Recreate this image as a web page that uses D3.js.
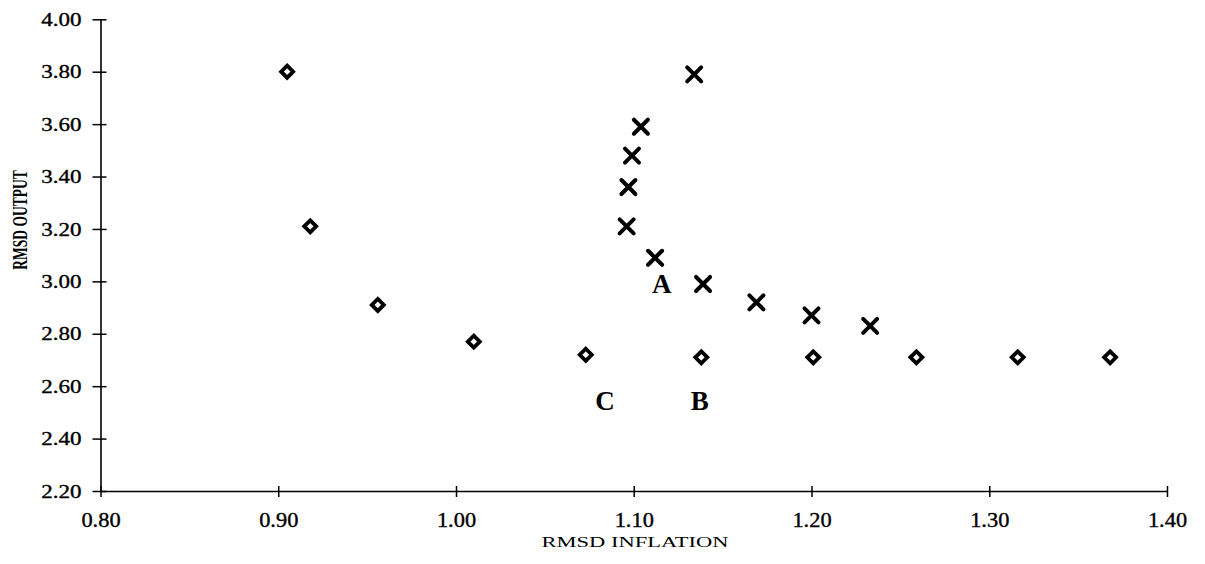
<!DOCTYPE html>
<html>
  <head>
    <meta charset="utf-8">
    <script src="https://d3js.org/d3.v7.min.js"></script>
    <style>
      body {
        margin: 0;
        background: #fff;
      }
      text {
        font-family: "Liberation Serif", "Times New Roman", serif;
        fill: #000;
      }
    </style>
  </head>
  <body>
    <script type="text/javascript">
      "use strict";

      // Diamond series (RMSD inflation, RMSD output)
      var diamondX = [0.905, 0.918, 0.956, 1.010, 1.073, 1.138, 1.201, 1.259, 1.316, 1.368];
      var diamondY = [3.80, 3.21, 2.91, 2.77, 2.72, 2.71, 2.71, 2.71, 2.71, 2.71];

      // Cross series
      var crossX = [1.134, 1.104, 1.099, 1.097, 1.096, 1.112, 1.139, 1.169, 1.200, 1.233];
      var crossY = [3.79, 3.59, 3.48, 3.36, 3.21, 3.09, 2.99, 2.92, 2.87, 2.83];

      // Letter annotations
      var noteText = ["A", "B", "C"];
      var noteX = [1.1157, 1.1372, 1.0838];
      var noteY = [2.99, 2.547, 2.547];

      // Axis ticks
      var xTicks = [0.80, 0.90, 1.00, 1.10, 1.20, 1.30, 1.40];
      var yTicks = [2.20, 2.40, 2.60, 2.80, 3.00, 3.20, 3.40, 3.60, 3.80, 4.00];

      var width = 1205,
          height = 564;

      function draw() {

        var svg = d3.select("body").append("svg")
                    .attr("width", width)
                    .attr("height", height);

        var x = d3.scaleLinear().domain([0.8, 1.4]).range([100.5, 1167]);
        var y = d3.scaleLinear().domain([2.2, 4.0]).range([491, 19.3]);

        // X axis, ticks crossing the line
        var xAxis = svg.append("g")
                       .attr("transform", "translate(0," + y(2.2) + ")")
                       .call(d3.axisBottom(x).tickValues(xTicks)
                               .tickFormat(d3.format(".2f"))
                               .tickSize(6).tickSizeOuter(0));
        xAxis.select(".domain").attr("stroke", "#000").attr("stroke-width", 1.6);
        xAxis.selectAll(".tick line").attr("y1", -5).attr("stroke-width", 1.5);
        xAxis.selectAll(".tick text")
             .attr("y", 0).attr("dy", 0)
             .attr("transform", "translate(0,36) scale(1.12,1)")
             .style("font-size", "20px")
             .style("stroke", "#000")
             .style("stroke-width", 0.35);

        // Y axis
        var yAxis = svg.append("g")
                       .attr("transform", "translate(" + x(0.8) + ",0)")
                       .call(d3.axisLeft(y).tickValues(yTicks)
                               .tickFormat(d3.format(".2f"))
                               .tickSize(8).tickSizeOuter(0));
        yAxis.select(".domain").attr("stroke", "#000").attr("stroke-width", 1.6);
        yAxis.selectAll(".tick line").attr("x1", 6).attr("stroke-width", 1.5);
        yAxis.selectAll(".tick text")
             .attr("x", 0).attr("dy", "0.34em")
             .attr("transform", "translate(-19,0) scale(1.28,1)")
             .style("font-size", "18px")
             .style("stroke", "#000")
             .style("stroke-width", 0.35);

        // Axis titles (the scan is stretched sideways)
        svg.append("text")
           .attr("transform", "translate(635,547) scale(1.5,1)")
           .style("text-anchor", "middle")
           .style("font-size", "15px")
           .text("RMSD INFLATION");

        svg.append("text")
           .attr("transform", "translate(27,220) rotate(-90) scale(1,1.55)")
           .style("text-anchor", "middle")
           .style("font-size", "13.5px")
           .style("font-weight", "bold")
           .text("RMSD OUTPUT");

        // Hollow diamonds
        svg.append("g").selectAll("path")
           .data(diamondX)
           .join("path")
           .attr("transform", function(d, i) {
             return "translate(" + x(d) + "," + y(diamondY[i]) + ")";
           })
           .attr("d", "M0,-6L6,0L0,6L-6,0Z")
           .attr("fill", "none")
           .attr("stroke", "#000")
           .attr("stroke-width", 3.8);

        // Crosses
        svg.append("g").selectAll("path")
           .data(crossX)
           .join("path")
           .attr("transform", function(d, i) {
             return "translate(" + x(d) + "," + y(crossY[i]) + ")";
           })
           .attr("d", "M-7,-7L7,7M-7,7L7,-7")
           .attr("fill", "none")
           .attr("stroke", "#000")
           .attr("stroke-width", 4)
           .attr("stroke-linecap", "round");

        // A, B, C letters
        svg.append("g").selectAll("text")
           .data(noteText)
           .join("text")
           .attr("x", function(d, i) { return x(noteX[i]); })
           .attr("y", function(d, i) { return y(noteY[i]); })
           .attr("dy", "0.35em")
           .style("text-anchor", "middle")
           .style("font-size", "27px")
           .style("font-weight", "bold")
           .text(function(d) { return d; });
      }

      draw();
    </script>
  </body>
</html>
